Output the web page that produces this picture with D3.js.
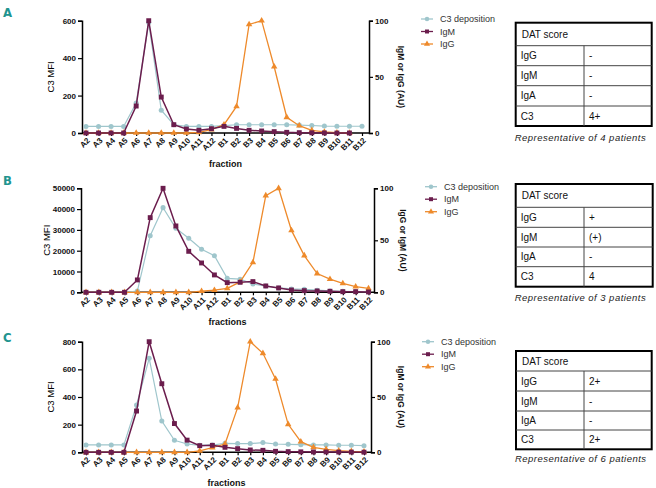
<!DOCTYPE html>
<html><head><meta charset="utf-8">
<script src="https://cdn.jsdelivr.net/npm/d3@7/dist/d3.min.js"></script>
<style>
body{margin:0;background:#fff;}
svg{display:block;}
</style></head>
<body>
<svg id="chart" width="656" height="488"></svg>
<script>
// ---------- data ----------
const categories = ["A2","A3","A4","A5","A6","A7","A8","A9","A10","A11","A12","B1","B2","B3","B4","B5","B6","B7","B8","B9","B10","B11","B12"];

const c3A  = [35,35,35,35,160,590,122,44,35,35,35,39,44,44,44,44,44,42,40,37,36,36,36];
const igmA = [0,0,0,0,24,100,32,7.4,3.5,2.4,3.8,5.9,4.1,2.4,1.8,1.2,0.6,0.3,0.2,0.1,0,0,null];
const iggA = [0,0,0,0,0,0,0,0,0,0.5,3,7.4,23.7,96.7,100,59,14,6.5,2.4,1,0.3,0,null];

const c3B  = [0,0,0,0,600,27200,40700,30800,26000,20700,17600,6700,6300,4000,3000,2100,1600,1400,1000,650,500,350,350];
const igmB = [0,0,0,0,11.9,71.8,100,63.8,39.4,28.2,16.7,9.3,9.6,10.3,6.1,4.2,2.2,1.6,1.3,1,0.6,0.6,0.3];
const iggB = [0,0,0,0,0,0,0,0,0,1,2,3.8,10,28.8,93,100,59.5,35.3,18,12.6,8.6,5.4,3.8];

const c3C  = [53,53,53,53,342,680,226,87,60,50,53,65,63,63,70,60,58,55,53,53,51,51,48];
const igmC = [0,0,0,0,37.3,100,62,26,11,6,6.3,4.5,3.3,2.1,1.8,0.9,0.6,0.4,0.3,0.3,0.2,0.2,0.1];
const iggC = [0,0,0,0,0,0,0,0,0,1.2,4.2,7.5,40.4,100,89.5,66.3,25.3,9.6,4.5,2.7,1.5,0.9,0.6];

const leftTicksA = [0,200,400,600];
const leftTicksB = [0,10000,20000,30000,40000,50000];
const leftTicksC = [0,200,400,600,800];
const rightTicks = [0,50,100];

const seriesNames = ["C3 deposition","IgM","IgG"];
const datRows = ["IgG","IgM","IgA","C3"];
const datA = ["-","-","-","4+"];
const datB = ["+","(+)","-","4"];
const datC = ["2+","-","-","2+"];
const captions = ["Representative of 4 patients","Representative of 3 patients","Representative of 6 patients"];

// ---------- style ----------
const COL = {c3:"#9fc6cc", igm:"#6b1d4d", igg:"#ee8a2b"};
const TEAL = "#21948f";
const FONT = "'Liberation Sans', Arial, sans-serif";

const panels = [
  {letter:"A", letterY:17, c3:c3A, igm:igmA, igg:iggA, lmax:600, lticks:leftTicksA,
   top:20.7, bottom:133, axL:82, axR:369, x0:86, x1:362, xTitle:"fraction", xTitleY:167,
   rTitle:"IgM or IgG (AU)", lTitleX:51, rTitleX:401,
   legY:19, legX:421, dat:datA, tTop:22.7, tRows:[45.7,65.7,85.7,106,126], tL:515.7, tR:651.7, tCol:584, capY:141, cap:captions[0]},
  {letter:"B", letterY:185, c3:c3B, igm:igmB, igg:iggB, lmax:50000, lticks:leftTicksB,
   top:188.3, bottom:292.3, axL:81, axR:374, x0:86, x1:368.5, xTitle:"fractions", xTitleY:325,
   rTitle:"IgG or IgM (AU)", lTitleX:47, rTitleX:403,
   legY:186.7, legX:425, dat:datB, tTop:184, tRows:[207.3,227.3,247,266.7,286.7], tL:515.7, tR:652.7, tCol:584, capY:301, cap:captions[1]},
  {letter:"C", letterY:342, c3:c3C, igm:igmC, igg:iggC, lmax:800, lticks:leftTicksC,
   top:341.7, bottom:452.3, axL:82, axR:371, x0:86, x1:364, xTitle:"fractions", xTitleY:486,
   rTitle:"IgM or IgG (AU)", lTitleX:51, rTitleX:401,
   legY:341.7, legX:422, dat:datC, tTop:351, tRows:[371,391,411,430,449.3], tL:516, tR:651.7, tCol:584, capY:462, cap:captions[2]}
];

const svg = d3.select("#chart");

panels.forEach(p => {
  const g = svg.append("g");
  const x = d3.scalePoint().domain(categories).range([p.x0, p.x1]);
  const yL = d3.scaleLinear().domain([0, p.lmax]).range([p.bottom, p.top]);
  const yR = d3.scaleLinear().domain([0, 100]).range([p.bottom, p.top]);

  // panel letter
  g.append("text").attr("x", 3).attr("y", p.letterY)
    .attr("font-family","'Liberation Sans Narrow','DejaVu Sans Condensed',sans-serif")
    .attr("font-weight","bold").attr("font-size",13).attr("fill",TEAL).text(p.letter);

  // left axis
  const la = g.append("g").attr("transform",`translate(${p.axL},0)`)
    .call(d3.axisLeft(yL).tickValues(p.lticks).tickSize(4).tickPadding(2).tickFormat(d3.format("d")));
  // right axis
  const ra = g.append("g").attr("transform",`translate(${p.axR},0)`)
    .call(d3.axisRight(yR).tickValues(rightTicks).tickSize(4).tickPadding(2));
  // x axis
  const xa = g.append("g").attr("transform",`translate(0,${p.bottom})`)
    .call(d3.axisBottom(x).tickSize(3).tickPadding(2));
  xa.select(".domain").remove();
  xa.append("line").attr("x1",p.axL).attr("x2",p.axR).attr("y1",0).attr("y2",0)
    .attr("stroke","#000").attr("stroke-width",1.5);
  xa.selectAll(".tick text").attr("text-anchor","end")
    .attr("x",0).attr("y",0).attr("dy","0.35em")
    .attr("transform","translate(2,6) rotate(-45)");

  [la, ra, xa].forEach(a => {
    a.selectAll(".domain").attr("stroke","#000").attr("stroke-width",1.5);
    a.selectAll(".tick line").attr("stroke","#000").attr("stroke-width",1.2);
    a.selectAll(".tick text").attr("font-family",FONT).attr("font-weight","bold")
      .attr("font-size",8).attr("fill","#111");
  });

  // axis titles
  g.append("text").attr("transform",`translate(${p.lTitleX},${(p.top+p.bottom)/2}) rotate(-90)`)
    .attr("text-anchor","middle").attr("dy","0.35em").attr("font-family",FONT)
    .attr("font-size",9.5).attr("fill","#000").text("C3 MFI");
  g.append("text").attr("transform",`translate(${p.rTitleX},${(p.top+p.bottom)/2}) rotate(90)`)
    .attr("text-anchor","middle").attr("dy","0.35em").attr("font-family",FONT)
    .attr("font-weight","bold").attr("font-size",8.5).attr("fill","#111").text(p.rTitle);
  g.append("text").attr("x",(p.axL+p.axR)/2).attr("y",p.xTitleY)
    .attr("text-anchor","middle").attr("font-family",FONT).attr("font-weight","bold")
    .attr("font-size",9).attr("fill","#111").text(p.xTitle);

  // series
  const defs = [
    {vals:p.c3, y:yL, col:COL.c3, sym:d3.symbolCircle, size:20, w:1.2},
    {vals:p.igg, y:yR, col:COL.igg, sym:d3.symbolTriangle, size:18, w:1.3},
    {vals:p.igm, y:yR, col:COL.igm, sym:d3.symbolSquare, size:24, w:1.5}
  ];
  defs.forEach(s => {
    const pts = categories.map((c,i)=>({c, v:s.vals[i]})).filter(d=>d.v!==null);
    g.append("path").datum(pts)
      .attr("d", d3.line().x(d=>x(d.c)).y(d=>s.y(d.v)))
      .attr("fill","none").attr("stroke",s.col).attr("stroke-width",s.w);
    g.selectAll(null).data(pts).enter().append("path")
      .attr("transform",d=>`translate(${x(d.c)},${s.y(d.v)})`)
      .attr("d", d3.symbol().type(s.sym).size(s.size)).attr("fill",s.col);
  });

  // legend
  const legCols = [COL.c3, COL.igm, COL.igg];
  const legSyms = [d3.symbolCircle, d3.symbolSquare, d3.symbolTriangle];
  seriesNames.forEach((n,i)=>{
    const ly = p.legY + i*12.5;
    g.append("line").attr("x1",p.legX).attr("x2",p.legX+12).attr("y1",ly).attr("y2",ly)
      .attr("stroke",legCols[i]).attr("stroke-width",1.3);
    g.append("path").attr("transform",`translate(${p.legX+6},${ly})`)
      .attr("d", d3.symbol().type(legSyms[i]).size(16)).attr("fill",legCols[i]);
    g.append("text").attr("x",p.legX+19).attr("y",ly).attr("dy","0.35em")
      .attr("font-family",FONT).attr("font-size",9).attr("fill","#333").text(n);
  });

  // DAT table
  const tb = g.append("g");
  tb.append("rect").attr("x",p.tL).attr("y",p.tTop).attr("width",p.tR-p.tL).attr("height",p.tRows[4]-p.tTop)
    .attr("fill","none").attr("stroke","#000").attr("stroke-width",2);
  p.tRows.slice(0,4).forEach(ry=>{
    tb.append("line").attr("x1",p.tL).attr("x2",p.tR).attr("y1",ry).attr("y2",ry)
      .attr("stroke","#444").attr("stroke-width",1);
  });
  tb.append("line").attr("x1",p.tCol).attr("x2",p.tCol).attr("y1",p.tRows[0]).attr("y2",p.tRows[4])
    .attr("stroke","#444").attr("stroke-width",1);
  tb.append("text").attr("x",p.tL+6).attr("y",(p.tTop+p.tRows[0])/2).attr("dy","0.35em")
    .attr("font-family",FONT).attr("font-size",10).attr("fill","#111").text("DAT score");
  datRows.forEach((r,i)=>{
    const cy = (p.tRows[i]+p.tRows[i+1])/2;
    tb.append("text").attr("x",p.tL+5).attr("y",cy).attr("dy","0.35em")
      .attr("font-family",FONT).attr("font-size",10).attr("fill","#111").text(r);
    tb.append("text").attr("x",p.tCol+5).attr("y",cy).attr("dy","0.35em")
      .attr("font-family",FONT).attr("font-size",10).attr("fill","#111").text(p.dat[i]);
  });
  tb.append("text").attr("x",p.tL-1).attr("y",p.capY)
    .attr("font-family",FONT).attr("font-style","italic").attr("font-size",9.5)
    .attr("fill","#222").attr("textLength",131).text(p.cap);
});
</script>
</body></html>
